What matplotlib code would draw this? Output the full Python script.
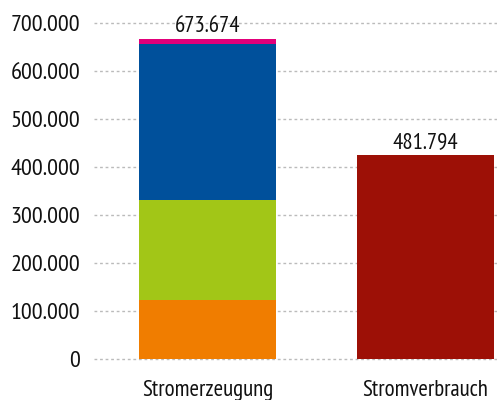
import numpy as np
import matplotlib.pyplot as plt
from matplotlib import font_manager

# Daten
kategorien = ["Stromerzeugung", "Stromverbrauch"]
orange = [123000, 0]
gruen = [209000, 0]
blau = [325000, 0]
magenta = [9000, 0]
verbrauch = [0, 424000]
beschriftung = ["673.674", "481.794"]
yticks = [0, 100000, 200000, 300000, 400000, 500000, 600000, 700000]
ytick_labels = ["0", "100.000", "200.000", "300.000", "400.000", "500.000", "600.000", "700.000"]

names = {f.name for f in font_manager.fontManager.ttflist}
wunsch = ['PT Sans Narrow', 'Open Sans Condensed', 'Asap Condensed',
          'Fira Sans Condensed', 'Barlow Semi Condensed', 'Liberation Sans Narrow']
schrift = [n for n in wunsch if n in names][:1]
plt.rcParams['font.family'] = schrift + ['DejaVu Sans']

fig = plt.figure(figsize=(4.97, 4.0), dpi=100)
ax = fig.add_axes([0.189, 0.1025, 0.811, 0.84])

x = np.arange(len(kategorien))
w = 0.63
unten = np.zeros(2)
for werte, farbe in [(orange, '#F07D00'), (gruen, '#A2C617'),
                     (blau, '#00509B'), (magenta, '#E2007A')]:
    werte = np.array(werte)
    ax.bar(x[:1], werte[:1], w, bottom=unten[:1], color=farbe, zorder=2)
    unten += werte
ax.bar(x[1:], verbrauch[1:], w, color='#9D1006', zorder=2)

top = [unten[0], verbrauch[1]]
for xi, t, s in zip(x, top, beschriftung):
    ax.text(xi, t + 15000, s, ha='center', va='baseline', fontsize=16.5, color='#111111')

ax.set_xlim(-0.524, 1.329)
ax.set_ylim(0, 700000)
ax.set_yticks(yticks)
ax.set_yticklabels(ytick_labels, fontsize=17.5, color='#111111')
ax.set_xticks(x)
ax.set_xticklabels(kategorien, fontsize=16.5, color='#111111')
ax.tick_params(axis='y', length=0, pad=10)
ax.tick_params(axis='x', length=0, pad=15)
for sp in ax.spines.values():
    sp.set_visible(False)
ax.grid(axis='y', color='#BBBBBB', linestyle=(0, (2, 2)), linewidth=1, zorder=0)
ax.set_axisbelow(True)
for gl in ax.get_ygridlines():
    gl.set_clip_on(False)

fig.savefig("out.png", dpi=100)
